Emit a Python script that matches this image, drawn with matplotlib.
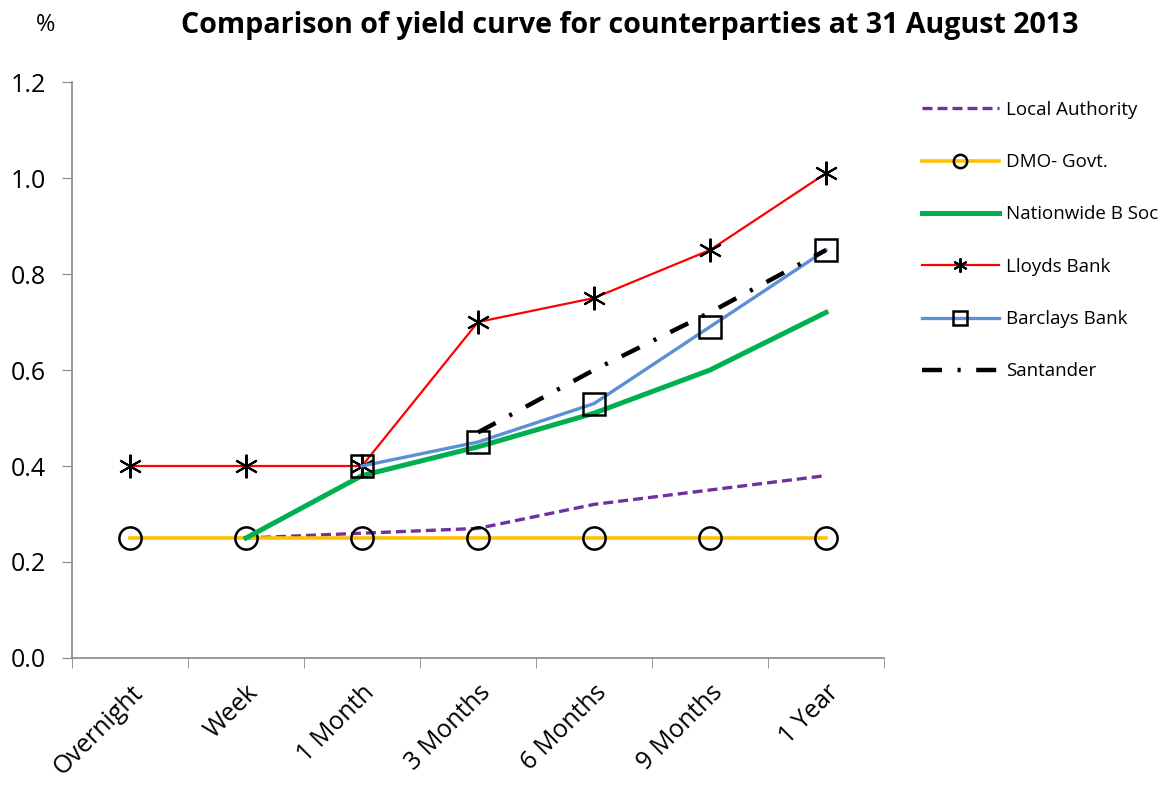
import numpy as np
import matplotlib
matplotlib.use("Agg")
import matplotlib.pyplot as plt

plt.rcParams['font.family'] = ['Open Sans', 'DejaVu Sans']

nan = np.nan
periods = ["Overnight", "Week", "1 Month", "3 Months", "6 Months", "9 Months", "1 Year"]

local_authority = [nan, 0.25, 0.26, 0.27, 0.32, 0.35, 0.38]
dmo_govt = [0.25, 0.25, 0.25, 0.25, 0.25, 0.25, 0.25]
nationwide = [nan, 0.25, 0.38, 0.44, 0.51, 0.60, 0.72]
lloyds = [0.40, 0.40, 0.40, 0.70, 0.75, 0.85, 1.01]
barclays = [nan, nan, 0.40, 0.45, 0.53, 0.69, 0.85]
santander = [nan, nan, nan, 0.47, 0.60, 0.72, 0.85]

x = np.arange(len(periods))

fig = plt.figure(figsize=(11.69, 7.85), dpi=100)
ax = fig.add_axes([0.0616, 0.1618, 0.6946, 0.7337])

ax.plot(x, local_authority, color="#7030A0", lw=2.4, dashes=(3.0, 1.5), label="Local Authority")
ax.plot(x, dmo_govt, color="#FFC000", lw=2.6, marker="o", ms=16, mfc="none",
        mec="black", mew=1.8, label="DMO- Govt.")
ax.plot(x, nationwide, color="#00B050", lw=3.6, label="Nationwide B Soc")
ax.plot(x, lloyds, color="#FF0000", lw=1.6, marker=(6, 2, 0), ms=17,
        mec="black", mew=1.5, label="Lloyds Bank")
ax.plot(x, barclays, color="#5B8FD6", lw=2.4, marker="s", ms=16, mfc="none",
        mec="black", mew=1.8, label="Barclays Bank")
ax.plot(x, santander, color="black", lw=3.2, dashes=(4.5, 3.5, 0.7, 3.5), label="Santander")

ax.set_xlim(-0.5, 6.5)
ax.set_ylim(0, 1.2)
ax.set_yticks(np.arange(0, 1.21, 0.2))
ax.set_yticklabels([f"{v:.1f}" for v in np.arange(0, 1.21, 0.2)], fontsize=18)
ax.set_xticks(x)
ax.set_xticklabels(periods, fontsize=18, rotation=45, ha="right", rotation_mode="anchor")
ax.set_xticks(np.arange(-0.5, 7, 1), minor=True)
ax.tick_params(axis="x", which="major", length=0, pad=16)
ax.tick_params(axis="x", which="minor", length=7, color="#868686", direction="out")
ax.tick_params(axis="y", length=7, color="#868686", direction="out", pad=12)

for s in ["top", "right"]:
    ax.spines[s].set_visible(False)
for s in ["left", "bottom"]:
    ax.spines[s].set_color("#868686")
    ax.spines[s].set_linewidth(1.2)

fig.text(0.539, 0.968, "Comparison of yield curve for counterparties at 31 August 2013",
         ha="center", va="center", fontsize=20.6, fontweight="bold")
fig.text(0.039, 0.968, "%", ha="center", va="center", fontsize=17)

fig.legend(loc="upper left", bbox_to_anchor=(0.774, 0.893), frameon=False,
           fontsize=13.5, handlelength=4.1, labelspacing=1.83, handletextpad=0.4,
           markerscale=0.6)

fig.savefig("out.png", dpi=100)
